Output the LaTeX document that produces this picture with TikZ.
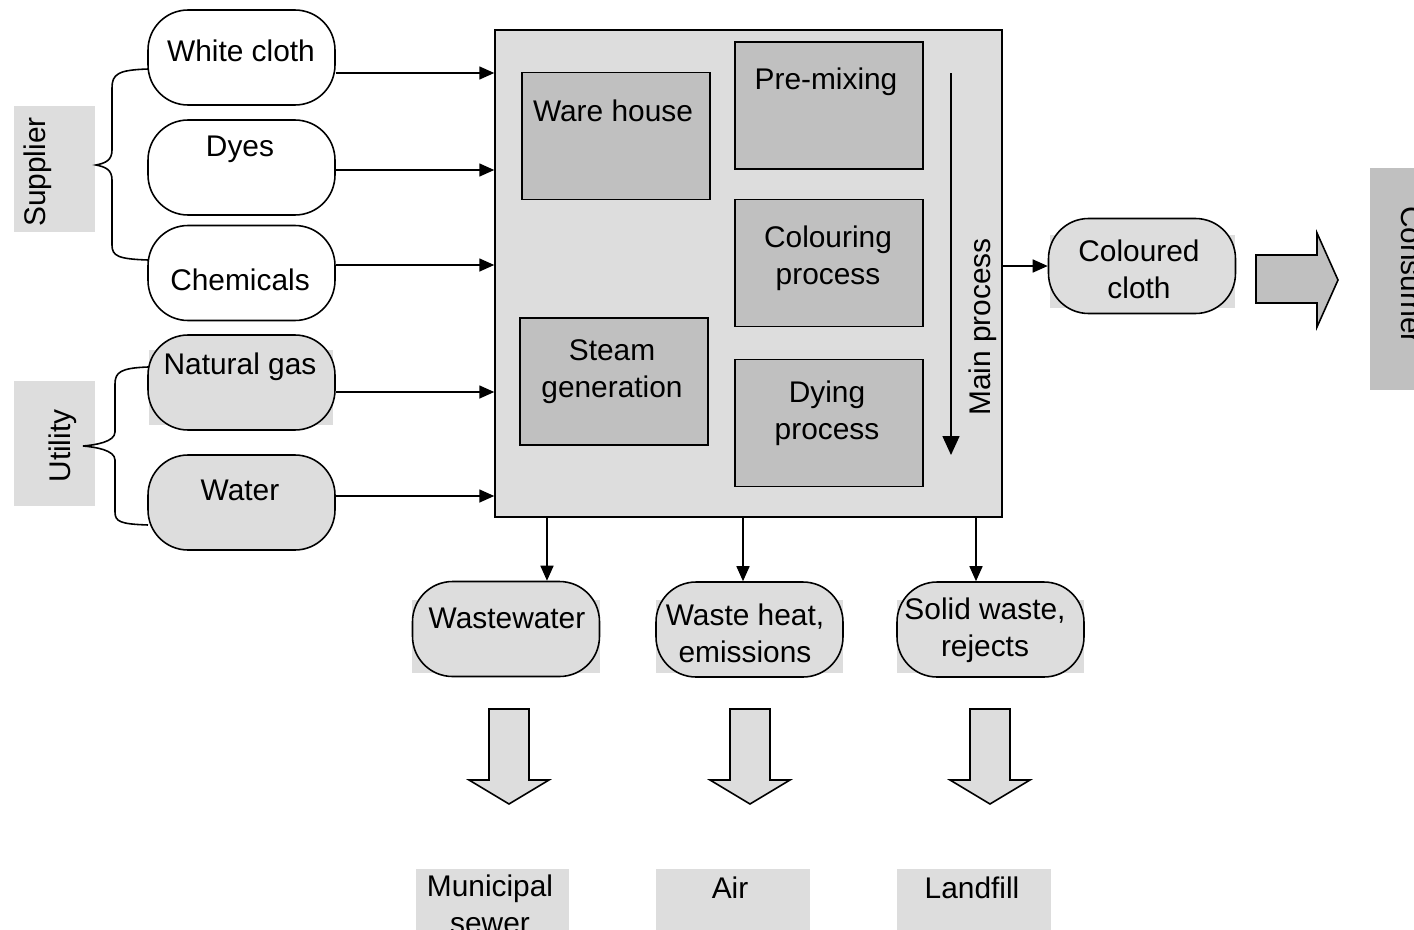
\documentclass[tikz,border=0pt]{standalone}
\usepackage{fontspec}
\setmainfont{Liberation Sans}
\usetikzlibrary{arrows.meta}
\definecolor{litegray}{HTML}{DDDDDD}
\definecolor{midgray}{HTML}{C0C0C0}
\tikzset{
  stad/.style={draw, rounded corners=0.8cm, minimum width=3.74cm, minimum height=1.9cm, line width=0.9pt, inner sep=0pt},
  stadgray/.style={stad, fill=litegray},
  unit/.style={draw, fill=midgray, minimum width=3.76cm, minimum height=2.54cm, line width=0.9pt, inner sep=0pt},
  txt/.style={font=\fontsize{17}{21}\selectfont, align=center, inner sep=0pt},
  flow/.style={line width=0.9pt, -{Triangle[length=0.3cm,width=0.26cm]}},
  fatarrow/.style={draw, line width=0.9pt, line join=miter}
}
\begin{document}
\begin{tikzpicture}[x=0.02cm,y=-0.02cm]
  \useasboundingbox (0,0) rectangle (1414,930);

  % side labels
  \fill[litegray] (14,106) rectangle (95,232);
  \node[txt, rotate=90] (supplier) at (38,172) {Supplier};
  \fill[litegray] (14,381) rectangle (95,506);
  \node[txt, rotate=90] (utility) at (63,446) {Utility};

  % inputs
  \fill[litegray] (149,350) rectangle (333,425);
  \node[stad] (wcloth) at (241.5,57.5) {};
  \node[stad] (dyes) at (241.5,167.5) {};
  \node[stad] (chem) at (241.5,273) {};
  \node[stadgray] (ngas) at (241.5,382.5) {};
  \node[stadgray] (water) at (241.5,502.5) {};
  \node[txt] at (241,51) {White cloth};
  \node[txt] at (240,149) {Dyes};
  \node[txt] at (240,280) {Chemicals};
  \node[txt] at (240,367) {Natural gas};
  \node[txt] at (240,490) {Water};

  % braces
  \draw[line width=0.9pt] (148,69) .. controls (118,70) and (112,74) .. (112,88) -- (112,150)
    .. controls (112,160) and (106,163) .. (96,165) .. controls (106,167) and (112,170) .. (112,180)
    -- (112,245) .. controls (112,256) and (118,259) .. (148,260);
  \draw[line width=0.9pt] (148,367) .. controls (121,368) and (115,372) .. (115,384) -- (115,432)
    .. controls (115,442) and (95,445) .. (83,446) .. controls (95,447) and (115,450) .. (115,460)
    -- (115,512) .. controls (115,522) and (121,524) .. (148,525);

  % main process
  \node[draw, fill=litegray, line width=0.9pt, minimum width=10.14cm, minimum height=9.74cm] (mainbox) at (748.5,273.5) {};
  \node[unit] (whouse) at (616,136) {};
  \node[unit] (premix) at (829,105.5) {};
  \node[unit] (colour) at (829,263) {};
  \node[unit] (steam) at (614,381.5) {};
  \node[unit] (dying) at (829,423) {};
  \node[txt] at (613,111) {Ware house};
  \node[txt] at (826,82) {Pre-mixing};
  \node[txt] at (828,258) {Colouring\\process};
  \node[txt] at (612,372) {Steam\\generation};
  \node[txt] at (827,413) {Dying\\process};
  \draw[line width=0.9pt, -{Triangle[length=0.38cm,width=0.34cm]}] (951,73) -- (951,455);
  \node[txt, rotate=90] (mainlbl) at (983,327) {Main process};

  \foreach \n/\s in {wcloth/-0.31, dyes/-0.05, chem/0.16, ngas/-0.19, water/0.13} {
    \path ([yshift=\s cm]\n.east) coordinate (a);
    \draw[flow] (a) -- (a -| mainbox.west);
  }

  % product
  \fill[litegray] (1050,235) rectangle (1235,308);
  \node[stadgray] (ccloth) at (1142,266) {};
  \node[txt] at (1139,269) {Coloured\\cloth};
  \draw[flow] (ccloth.west -| mainbox.east) -- (ccloth.west);
  \draw[fatarrow, fill=midgray] (1256,255) -- (1317,255) -- (1317,233) -- (1338,280)
    -- (1317,327) -- (1317,303) -- (1256,303) -- cycle;
  \fill[midgray] (1370,168) rectangle (1420,390);
  \node[txt, rotate=-90] (consumer) at (1412,275) {Consumer};

  % outputs
  \fill[litegray] (412,600) rectangle (600,673);
  \fill[litegray] (656,600) rectangle (843,673);
  \fill[litegray] (897,600) rectangle (1084,673);
  \node[stadgray] (ww) at (506,629) {};
  \node[stadgray] (wheat) at (749.5,629.5) {};
  \node[stadgray] (swaste) at (990.5,629.5) {};
  \node[txt] at (507,618) {Wastewater};
  \node[txt] at (745,633) {Waste heat,\\emissions};
  \node[txt] at (985,630) {Solid waste,\\rejects};

  \foreach \n/\s in {ww/0.82, wheat/-0.13, swaste/-0.29} {
    \path ([xshift=\s cm]\n.north) coordinate (b);
    \draw[flow] (b |- mainbox.south) -- (b);
  }

  \foreach \c in {509, 750, 990}
    \draw[fatarrow, fill=litegray] (\c-20,709) -- (\c+20,709) -- (\c+20,780) -- (\c+40,780)
      -- (\c,804) -- (\c-40,780) -- (\c-20,780) -- cycle;

  % sinks
  \fill[litegray] (416,869) rectangle (569,935);
  \fill[litegray] (656,869) rectangle (810,935);
  \fill[litegray] (897,869) rectangle (1051,935);
  \node[txt] (sewer) at (490,904) {Municipal\\sewer};
  \node[txt] (air) at (730,888) {Air};
  \node[txt] (landfill) at (972,888) {Landfill};
\end{tikzpicture}
\end{document}
